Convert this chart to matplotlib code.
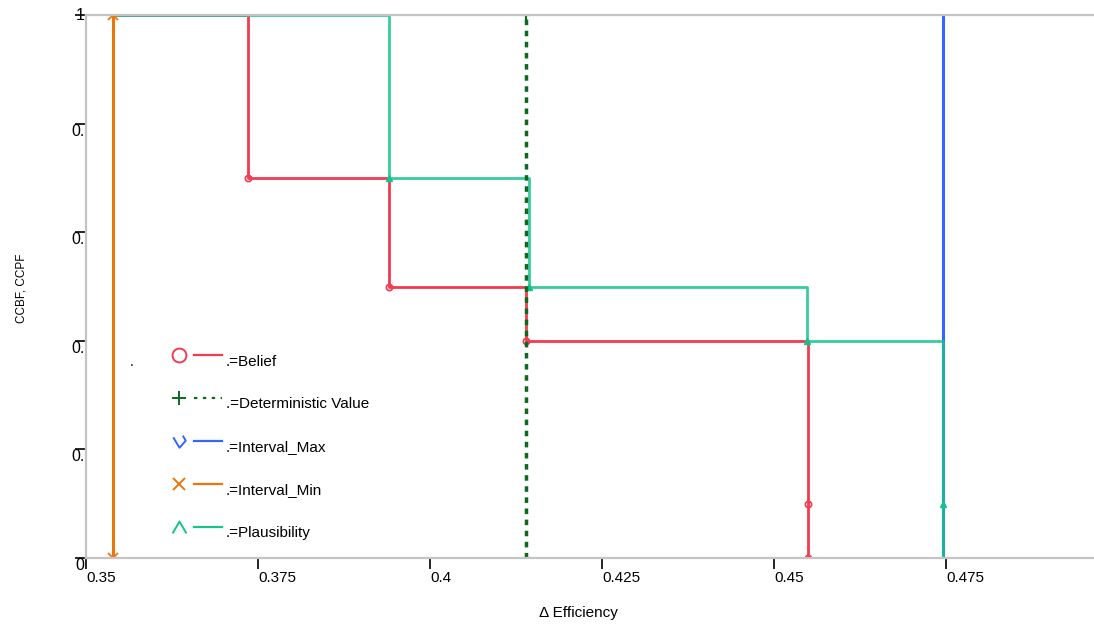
import numpy as np
import matplotlib.pyplot as plt
from matplotlib.lines import Line2D
from matplotlib.path import Path

plt.rcParams['font.family'] = ['Liberation Sans', 'DejaVu Sans']

# data
belief_x = [0.3735, 0.394, 0.4139, 0.4549, 0.4549]
belief_y = [0.7, 0.5, 0.4, 0.1, 0.0]
plaus_x = [0.394, 0.4144, 0.4548, 0.4746, 0.4746]
plaus_y = [0.7, 0.5, 0.4, 0.1, 0.0]
interval_min = 0.3539
interval_max = 0.4746
deterministic = 0.4139

x_ticks = [0.35, 0.375, 0.4, 0.425, 0.45, 0.475]
x_tick_labels = ['0.35', '0.375', '0.4', '0.425', '0.45', '0.475']
y_ticks = [0, 0.2, 0.4, 0.6, 0.8, 1]
y_tick_labels = ['0', '0.', '0.', '0.', '0.', '1']
legend_names = ['Belief', 'Deterministic Value', 'Interval_Max', 'Interval_Min', 'Plausibility']

c_belief = '#f23a50'
c_plaus = '#14c48c'
c_max = '#3366ff'
c_min = '#e8770c'
c_det = '#0a6a1e'

# open "v"-like marker used for Interval_Max
max_marker = Path([(-1, 0.67), (0, -1), (1, 0.13), (0.53, 0.93)],
                  [Path.MOVETO, Path.LINETO, Path.LINETO, Path.LINETO])
# open caret marker used for Plausibility
plaus_marker = Path([(-0.7, -0.6), (0, 0.6), (0.7, -0.6)],
                    [Path.MOVETO, Path.LINETO, Path.LINETO])

W, H = 1094, 624
fig = plt.figure(figsize=(W / 100, H / 100), dpi=100)
ax = fig.add_axes([86 / W, 1 - 558 / H, 1 - 86 / W, (558 - 15) / H])
ax.set_xlim(0.35, 0.4965)
ax.set_ylim(0, 1)

# Interval_Max
ax.plot([interval_max, interval_max], [0, 1], color=c_max, lw=2.2)

# Belief
bx = [interval_min] + belief_x
by = [1] + belief_y
ax.step(bx, by, where='post', color=c_belief, lw=2)
ax.plot(belief_x, belief_y, 'o', ms=4.5, mfc='none', mec=c_belief, mew=1.2)

# Plausibility
px = [interval_min] + plaus_x
py = [1] + plaus_y
ax.step(px, py, where='post', color=c_plaus, lw=2, alpha=0.85)
ax.plot(plaus_x, plaus_y, '^', ms=4, color=c_plaus)

# Interval_Min
ax.plot([interval_min, interval_min], [0, 1], color=c_min, lw=2.2,
        marker='x', ms=7, mew=1.3)

# Deterministic value
ax.plot([deterministic, deterministic], [0, 1], color=c_det, lw=2.5,
        ls=(0, (1.6, 1.6)), marker='+', ms=7, mew=1.5)

for s in ['left', 'bottom', 'top']:
    ax.spines[s].set_color('#c4c4c4')
    ax.spines[s].set_linewidth(1.6)
ax.spines['right'].set_visible(False)

ax.set_xticks(x_ticks)
ax.set_xticklabels(x_tick_labels, ha='left')
ax.set_yticks(y_ticks)
ax.set_yticklabels(y_tick_labels)
ax.tick_params(axis='x', direction='out', length=8, width=1.2, color='black',
               pad=1.5, labelsize=11)
ax.tick_params(axis='y', direction='out', length=8, width=1.2, color='black',
               pad=-7, labelsize=11.5)
for lab in ax.get_yticklabels():
    lab.set_va('top')
ax.get_yticklabels()[-1].set_va('center')

fig.text(578 / W, 1 - 613 / H, '\u0394 Efficiency', ha='center', va='center', fontsize=11)
fig.text(22 / W, 1 - 288 / H, 'CCBF, CCPF', rotation=90, ha='center', va='center', fontsize=8.5)

# hand-made legend
entries = [
    dict(marker='o', ls='-', color=c_belief, ms=10, mfc='none'),
    dict(marker='+', ls=(0, (1.5, 2.5)), color=c_det, ms=10),
    dict(marker=max_marker, ls='-', color=c_max, ms=9, mfc='none'),
    dict(marker='x', ls='-', color=c_min, ms=8),
    dict(marker=plaus_marker, ls='-', color=c_plaus, ms=10, mfc='none'),
]
y0, dy = 354.5, 43
for i, (name, e) in enumerate(zip(legend_names, entries)):
    yl = y0 + i * dy
    fig.add_artist(Line2D([194 / W, 222 / W], [1 - yl / H, 1 - yl / H],
                          transform=fig.transFigure, color=e['color'],
                          ls=e['ls'], lw=1.6))
    fig.add_artist(Line2D([179 / W], [1 - yl / H], transform=fig.transFigure,
                          ls='none', marker=e['marker'], ms=e['ms'],
                          mfc=e.get('mfc', e['color']), mec=e['color'], mew=1.4))
    fig.text(226 / W, 1 - (yl + 7) / H, '.=' + name, ha='left', va='center', fontsize=11)
fig.text(132 / W, 1 - 362 / H, '.', ha='center', va='center', fontsize=10)

fig.savefig('out.png', dpi=100)
